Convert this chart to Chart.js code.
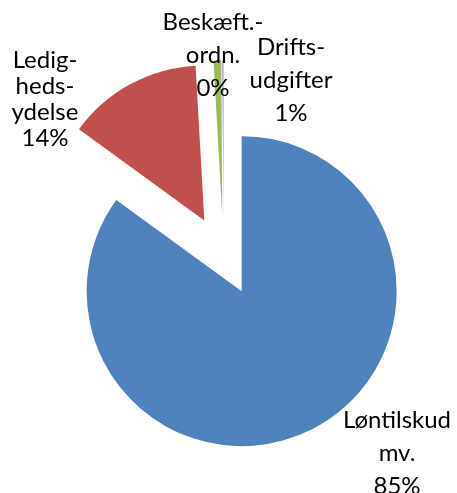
<!DOCTYPE html>
<html>
<head>
<meta charset="utf-8">
<script src="https://cdn.jsdelivr.net/npm/chart.js@4"></script>
<style>
  html, body { margin: 0; padding: 0; background: #fff; }
  #wrap { width: 457px; height: 493px; }
</style>
</head>
<body>
<div id="wrap"><canvas id="costChart"></canvas></div>
<script>
// Data
const categories = ['Løntilskud mv.', 'Ledighedsydelse', 'Driftsudgifter', 'Beskæft.-ordn.'];
const shares = [85.0, 14.1, 0.8, 0.1];
// how each category name is broken over lines in the label
const labelLines = [['Løntilskud', 'mv.'], ['Ledig-', 'heds-', 'ydelse'], ['Drifts-', 'udgifter'], ['Beskæft.-', 'ordn.']];

const colors = ['#4F81BD', '#C0504D', '#9BBB59', '#8064A2'];

// layout of the labels (block centre, line spacing) and how far slices are pulled out
const labelPos = [[397, 453], [45, 99], [291, 80], [213, 55]];
const labelLineHeight = [33, 26, 33, 33];
const explode = 40;

const total = shares.reduce((a, b) => a + b, 0);

// pull every slice out along its middle angle
const explodePlugin = {
    id: 'explode',
    afterDatasetUpdate(chart, args) {
        args.meta.data.forEach(arc => {
            const mid = (arc.startAngle + arc.endAngle) / 2;
            arc.x += Math.cos(mid) * explode;
            arc.y += Math.sin(mid) * explode;
        });
    }
};

const labelPlugin = {
    id: 'sliceLabels',
    afterDraw(chart) {
        const ctx = chart.ctx;
        ctx.save();
        ctx.fillStyle = '#000';
        ctx.font = '24px Lato';
        ctx.textAlign = 'center';
        ctx.textBaseline = 'middle';
        shares.forEach((v, i) => {
            const lines = labelLines[i].concat([Math.round(v / total * 100) + '%']);
            const [cx, cy] = labelPos[i];
            const lh = labelLineHeight[i];
            const top = cy - (lines.length - 1) * lh / 2;
            lines.forEach((t, j) => ctx.fillText(t, cx, top + j * lh));
        });
        ctx.restore();
    }
};

const ctx = document.getElementById('costChart').getContext('2d');
const costChart = new Chart(ctx, {
    type: 'pie',
    data: {
        labels: categories,
        datasets: [{
            data: shares,
            backgroundColor: colors,
            borderWidth: 0,
            hoverOffset: 0
        }]
    },
    options: {
        responsive: true,
        maintainAspectRatio: false,
        animation: false,
        radius: 155,
        layout: { padding: { left: 49, right: 59, top: 81, bottom: 63 } },
        plugins: {
            legend: { display: false },
            tooltip: { enabled: false }
        }
    },
    plugins: [explodePlugin, labelPlugin]
});
</script>
</body>
</html>
